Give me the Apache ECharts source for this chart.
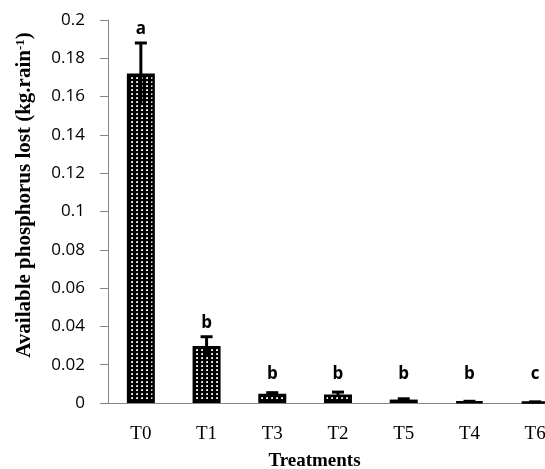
<!DOCTYPE html>
<html><head><meta charset="utf-8">
<script src="https://cdn.jsdelivr.net/npm/echarts@6/dist/echarts.min.js"></script>
<style>html,body{margin:0;padding:0;background:#fff;overflow:hidden;width:545px;height:469px}#c{width:568px;height:469px}</style>
</head><body><div id="c"></div>
<script>
var categories = ['T0','T1','T3','T2','T5','T4','T6'];
var values = [0.172, 0.0298, 0.0048, 0.0045, 0.0018, 0.0007, 0.0005];
var errors = [0.016, 0.0048, 0.0006, 0.0012, 0.0004, 0.0002, 0.0001];
var letters = ['a','b','b','b','b','b','c'];
var yTicks = [0, 0.02, 0.04, 0.06, 0.08, 0.1, 0.12, 0.14, 0.16, 0.18, 0.2];

var pc = document.createElement('canvas');
pc.width = 5; pc.height = 4;
var g = pc.getContext('2d');
g.fillStyle = '#000'; g.fillRect(0,0,5,4);
g.fillStyle = '#e6e6e6'; g.fillRect(1,1,2,2);
g.fillStyle = '#9a9a9a'; g.fillRect(1,1,1,1);

var chart = echarts.init(document.getElementById('c'), null, {renderer:'canvas'});
chart.setOption({
  animation: false,
  grid: {left: 108, top: 20, bottom: 66, right: 0, containLabel: false, outerBoundsMode: 'none'},
  xAxis: {
    type: 'category', data: categories,
    axisLine: {lineStyle: {color: '#868686', width: 1}},
    axisTick: {show: false},
    axisLabel: {fontFamily: 'Liberation Serif', fontSize: 19, color: '#000', margin: 22},
    name: 'Treatments', nameLocation: 'middle', nameGap: 49,
    nameTextStyle: {fontFamily: 'Liberation Serif', fontWeight: 'bold', fontSize: 19, color: '#000', padding: [0, 0, 0, -47]}
  },
  yAxis: {
    type: 'value', min: 0, max: 0.2, interval: 0.02,
    splitLine: {show: false},
    axisLine: {show: true, lineStyle: {color: '#868686', width: 1}},
    axisTick: {show: true, length: 8, lineStyle: {color: '#868686'}},
    axisLabel: {fontFamily: 'Open Sans', fontSize: 17, color: '#000', margin: 23,
      formatter: function(v){ var s = yTicks.find(function(t){return Math.abs(t-v)<1e-9;}); return s===undefined? '' : String(+s.toFixed(2)); }}
  },
  graphic: [{
    type: 'text', x: 25, y: 195, rotation: Math.PI/2,
    style: {
      text: '{b|Available phosphorus lost (kg.rain}{s|-1}{b|)}',
      align: 'center', verticalAlign: 'middle',
      rich: {
        b: {fontFamily: 'Liberation Serif', fontWeight: 'bold', fontSize: 21, fill: '#000', color: '#000'},
        s: {fontFamily: 'Liberation Serif', fontWeight: 'bold', fontSize: 13, fill: '#000', color: '#000', verticalAlign: 'top', padding: [0,0,9,0]}
      }
    }
  }],
  series: [{
    type: 'bar', data: values, barWidth: 28,
    itemStyle: {color: {image: pc, repeat: 'repeat'}, borderColor: '#000', borderWidth: 2.5}
  }, {
    type: 'custom',
    data: values.map(function(v,i){return [i, v, errors[i]];}),
    renderItem: function(params, api){
      var i = api.value(0), v = api.value(1), e = api.value(2);
      var top = api.coord([i, v + e]);
      var bot = api.coord([i, Math.max(0, v - e)]);
      var base = api.coord([i, 0]);
      var x = top[0];
      var ly = Math.min(top[1] - 14, base[1] - 29);
      return {type: 'group', children: [
        {type: 'line', shape: {x1: x, y1: top[1], x2: x, y2: bot[1]}, style: {stroke: '#000', lineWidth: 3}},
        {type: 'line', shape: {x1: x-6, y1: top[1], x2: x+6, y2: top[1]}, style: {stroke: '#000', lineWidth: 3}},
        {type: 'text', x: x, y: ly, style: {text: letters[params.dataIndex], fontFamily: 'Open Sans', fontWeight: 'bold', fontSize: 17, fill: '#000', align: 'center', verticalAlign: 'middle'}}
      ]};
    },
    z: 10
  }]
});
</script></body></html>
